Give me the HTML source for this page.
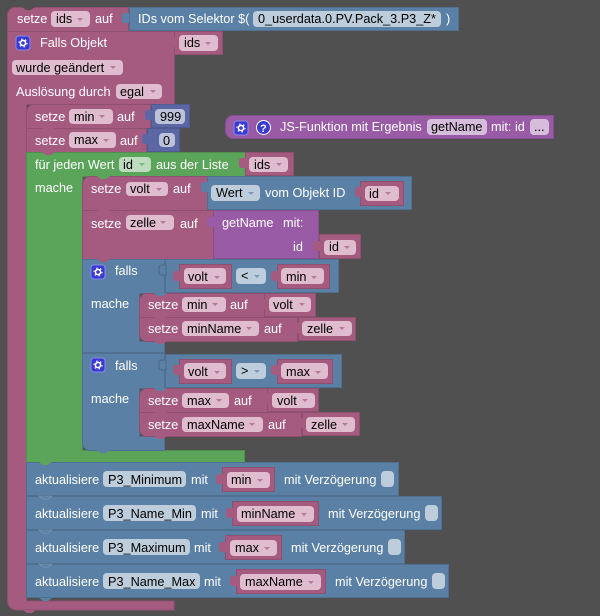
<!DOCTYPE html>
<html><head><meta charset="utf-8"><style>
html,body{margin:0;padding:0;background:#505050}
svg{display:block}
text{font-family:"Liberation Sans",sans-serif;font-size:12.7px}
.w{fill:#fff}.d{fill:#000}
.p{fill:#a55b80;stroke:#8f4f6f;stroke-width:1}
.b{fill:#5b80a5;stroke:#4f7090;stroke-width:1}
.g{fill:#5ba55b;stroke:#4f904f;stroke-width:1}
.u{fill:#995ba5;stroke:#854f90;stroke-width:1}
.i{fill:#5b67a5;stroke:#4f5a90;stroke-width:1}
.fp{fill:#e0bccf}.fb{fill:#bdcddc}.fg{fill:#bddbbd}.fu{fill:#d6bddb}.fi{fill:#bdc2db}
.ap{fill:#b67a98}.ab{fill:#7a98b6}.ag{fill:#7ab67a}
</style></head><body>
<svg width="600" height="616" viewBox="0 0 600 616" xmlns="http://www.w3.org/2000/svg">
<defs>
<path id="ar" d="M-3 0h6l-3 3z"/>
<g id="gear"><rect x="0" y="0" width="14" height="14" rx="3" fill="#3a3ad2" stroke="#8a8ae8"/><circle cx="7" cy="7" r="2.6" fill="none" stroke="#fff" stroke-width="1.6"/><circle cx="7" cy="7" r="4" fill="none" stroke="#fff" stroke-width="1.1" stroke-dasharray="1.5 2.7"/></g>
<path id="tb" d="M1 0H-3c-3 0-3 2-3 3v4c0 1 0 3 3 3H1z" fill="#5b80a5"/>
<path id="tp" d="M1 0H-3c-3 0-3 2-3 3v4c0 1 0 3 3 3H1z" fill="#a55b80"/>
<path id="tu" d="M1 0H-3c-3 0-3 2-3 3v4c0 1 0 3 3 3H1z" fill="#995ba5"/>
<path id="ti" d="M1 0H-3c-3 0-3 2-3 3v4c0 1 0 3 3 3H1z" fill="#5b67a5"/>
<path id="tg" d="M1 0H-3c-3 0-3 2-3 3v4c0 1 0 3 3 3H1z" fill="#5b80a5" stroke="#4a6785"/>
<path id="ne" d="M1 0l4 3h5l4-3z"/>
</defs>
<rect width="600" height="616" fill="#505050"/>

<!-- Falls Objekt C block -->
<path class="p" d="M174.500 31.500H7.500V601c0 5 4 9 9 9H174V601H26.500V104.500H174.500z"/>
<path fill="#a55b80" d="M23 610l4 3h5l4-3z"/>
<rect class="p" x="174.500" y="31.500" width="48" height="23"/>

<!-- Setze ids -->
<path class="p" d="M128.500 7.500H15c-4 0-7.500 3.500-7.500 7.500V31.500H128.500z"/>
<use href="#ne" x="21" y="7" fill="#505050"/>
<rect class="b" x="129.500" y="7.500" width="329" height="23"/>
<use href="#tb" x="128" y="13"/>
<text class="w" x="17" y="23">setze</text>
<rect class="fp" x="51" y="11" width="39" height="16" rx="4"/><text class="d" x="56" y="23">ids</text><use href="#ar" class="ap" x="80" y="18"/>
<text class="w" x="95" y="23">auf</text>
<text class="w" x="138" y="23">IDs vom Selektor $(</text>
<rect class="fb" x="253" y="11" width="188" height="16" rx="4"/><text class="d" x="258" y="23">0_userdata.0.PV.Pack_3.P3_Z*</text>
<text class="w" x="446" y="23">)</text>

<use href="#gear" x="16" y="36"/>
<text class="w" x="40" y="47">Falls Objekt</text>
<use href="#tp" x="174" y="37"/>
<rect class="fp" x="179" y="35" width="39" height="16" rx="4"/><text class="d" x="184" y="47">ids</text><use href="#ar" class="ap" x="208" y="42"/>
<rect class="fp" x="12" y="60" width="111" height="15" rx="4"/><text class="d" x="16" y="72">wurde geändert</text><use href="#ar" class="ap" x="113" y="66"/>
<text class="w" x="16" y="96">Auslösung durch</text>
<rect class="fp" x="116" y="84" width="46" height="15" rx="4"/><text class="d" x="120" y="96">egal</text><use href="#ar" class="ap" x="153" y="90"/>

<!-- JS function -->
<path class="u" d="M553.500 115.500H233c-4 0-7.500 3.500-7.500 7.500v8c0 4 3.500 7.500 7.500 7.500H553.500z"/>
<use href="#gear" x="234" y="121"/>
<circle cx="263.500" cy="127.500" r="7" fill="#3a3ad2" stroke="#fff"/>
<text x="260" y="132" font-weight="bold" style="font-size:11px" fill="#fff">?</text>
<text class="w" x="280" y="131">JS-Funktion mit Ergebnis</text>
<rect class="fu" x="427" y="119" width="60" height="16" rx="4"/><text class="d" x="431" y="131">getName</text>
<text class="w" x="491" y="131">mit: id</text>
<rect class="fu" x="530" y="119" width="19" height="16" rx="4"/><text class="d" x="534" y="131">...</text>

<!-- setze min -->
<path class="p" d="M150.500 104.500H34c-4 0-7.500 3.500-7.500 7.500V128.500H150.500z"/>
<rect class="i" x="151.500" y="104.500" width="38" height="23"/>
<use href="#ti" x="151" y="110"/>
<text class="w" x="35" y="121">setze</text>
<rect class="fp" x="69" y="109" width="44" height="15" rx="4"/><text class="d" x="74" y="121">min</text><use href="#ar" class="ap" x="102" y="115"/>
<text class="w" x="117" y="121">auf</text>
<rect class="fi" x="155" y="109" width="30" height="15" rx="4"/><text class="d" x="160" y="121">999</text>

<!-- setze max -->
<rect class="p" x="26.500" y="128.500" width="120" height="24"/>
<rect class="i" x="147.500" y="128.500" width="32" height="23"/>
<use href="#ti" x="148" y="134"/>
<use href="#ne" x="41" y="128" fill="#a55b80"/>
<text class="w" x="35" y="145">setze</text>
<rect class="fp" x="69" y="132" width="47" height="16" rx="4"/><text class="d" x="74" y="144">max</text><use href="#ar" class="ap" x="106" y="139"/>
<text class="w" x="120" y="145">auf</text>
<rect class="fi" x="159" y="133" width="16" height="14" rx="4"/><text class="d" x="163" y="145">0</text>

<!-- green loop -->
<path class="g" d="M245.500 152.500H26.500V462.500H244.500V450.500H82.500V176.500H245.500z"/>
<use href="#ne" x="41" y="152" fill="#a55b80"/>
<rect class="p" x="245.500" y="152.500" width="48" height="23"/>
<use href="#tp" x="245" y="158"/>
<text class="w" x="35" y="169">für jeden Wert</text>
<rect class="fg" x="119" y="157" width="32" height="15" rx="4"/><text class="d" x="123" y="169">id</text><use href="#ar" class="ag" x="142" y="163"/>
<text class="w" x="156" y="169">aus der Liste</text>
<rect class="fp" x="249" y="157" width="39" height="15" rx="4"/><text class="d" x="254" y="169">ids</text><use href="#ar" class="ap" x="279" y="163"/>
<text class="w" x="35" y="192">mache</text>

<!-- setze volt -->
<path class="p" d="M207.500 176.500H90c-4 0-7.500 3.500-7.500 7.500V210.500H207.500z"/>
<rect class="b" x="207.500" y="176.500" width="204" height="33"/>
<use href="#tb" x="207" y="182"/>
<use href="#ne" x="96" y="176" fill="#5ba55b"/>
<text class="w" x="91" y="193">setze</text>
<rect class="fp" x="126" y="182" width="42" height="14" rx="4"/><text class="d" x="130" y="193">volt</text><use href="#ar" class="ap" x="159" y="188"/>
<text class="w" x="173" y="193">auf</text>
<rect class="fb" x="211" y="185" width="49" height="16" rx="4"/><text class="d" x="216" y="197">Wert</text><use href="#ar" class="ab" x="251" y="192"/>
<text class="w" x="265" y="197">vom Objekt ID</text>
<rect class="p" x="360.500" y="181.500" width="43" height="24"/>
<use href="#tp" x="361" y="187"/>
<rect class="fp" x="365" y="186" width="34" height="15" rx="4"/><text class="d" x="369" y="198">id</text><use href="#ar" class="ap" x="388" y="192"/>

<!-- setze zelle -->
<rect class="p" x="82.500" y="210.500" width="131" height="49"/>
<rect class="u" x="213.500" y="210.500" width="105" height="48"/>
<use href="#tu" x="213" y="217"/>
<use href="#ne" x="96" y="210" fill="#a55b80"/>
<rect class="p" x="319.500" y="234.500" width="41" height="24"/>
<use href="#tp" x="319" y="241"/>
<text class="w" x="91" y="228">setze</text>
<rect class="fp" x="126" y="215" width="48" height="15" rx="4"/><text class="d" x="130" y="227">zelle</text><use href="#ar" class="ap" x="163" y="221"/>
<text class="w" x="180" y="228">auf</text>
<text class="w" x="222" y="227">getName</text>
<text class="w" x="283" y="227">mit:</text>
<text class="w" x="293" y="251">id</text>
<rect class="fp" x="324" y="240" width="32" height="15" rx="4"/><text class="d" x="329" y="251">id</text><use href="#ar" class="ap" x="347" y="246"/>

<!-- falls 1 -->
<path class="b" d="M164.500 259.500H82.500V352.500H164.500V341.500H139.500V293.500H164.500z"/>
<use href="#ne" x="96" y="259" fill="#a55b80"/>
<rect class="b" x="165.500" y="259.500" width="173" height="33"/>
<use href="#tg" x="165" y="265"/>
<use href="#gear" x="91" y="265"/>
<text class="w" x="115" y="275">falls</text>
<rect class="p" x="179.500" y="264.500" width="52" height="24"/>
<use href="#tp" x="179" y="271"/>
<rect class="fp" x="184" y="268" width="42" height="16" rx="4"/><text class="d" x="188" y="281">volt</text><use href="#ar" class="ap" x="217" y="276"/>
<rect class="fb" x="236" y="268" width="30" height="16" rx="4"/><text class="d" x="241" y="280">&lt;</text><use href="#ar" class="ab" x="257" y="275"/>
<rect class="p" x="277.500" y="264.500" width="52" height="24"/>
<use href="#tp" x="277" y="271"/>
<rect class="fp" x="281" y="268" width="43" height="16" rx="4"/><text class="d" x="286" y="281">min</text><use href="#ar" class="ap" x="314" y="276"/>
<text class="w" x="91" y="308">mache</text>

<path class="p" d="M264.500 293.500H147c-4 0-7.500 3.500-7.500 7.500V317.500H264.500z"/>
<rect class="p" x="264.500" y="293.500" width="51" height="23"/>
<use href="#tp" x="264" y="299"/>
<use href="#ne" x="153" y="293" fill="#5b80a5"/>
<text class="w" x="148" y="309">setze</text>
<rect class="fp" x="182" y="297" width="44" height="15" rx="4"/><text class="d" x="187" y="309">min</text><use href="#ar" class="ap" x="215" y="303"/>
<text class="w" x="230" y="309">auf</text>
<rect class="fp" x="269" y="297" width="42" height="15" rx="4"/><text class="d" x="273" y="309">volt</text><use href="#ar" class="ap" x="302" y="303"/>

<path class="p" d="M297.500 317.500H139.500V334c0 4 3.500 7.500 7.500 7.500H297.500z"/>
<rect class="p" x="298.500" y="317.500" width="57" height="23"/>
<use href="#tp" x="298" y="323"/>
<use href="#ne" x="153" y="317" fill="#a55b80"/>
<use href="#ne" x="153" y="341" fill="#a55b80"/>
<text class="w" x="148" y="333">setze</text>
<rect class="fp" x="182" y="321" width="77" height="15" rx="4"/><text class="d" x="187" y="333">minName</text><use href="#ar" class="ap" x="249" y="327"/>
<text class="w" x="264" y="333">auf</text>
<rect class="fp" x="302" y="321" width="50" height="15" rx="4"/><text class="d" x="307" y="333">zelle</text><use href="#ar" class="ap" x="342" y="327"/>

<!-- falls 2 -->
<path class="b" d="M164.500 353.500H82.500V443c0 4 3.500 7.500 7.500 7.500H164.500V436.500H139.500V388.500H164.500z"/>
<use href="#ne" x="96" y="450" fill="#5b80a5"/>
<rect class="b" x="165.500" y="354.500" width="176" height="33"/>
<use href="#tg" x="165" y="360"/>
<use href="#gear" x="91" y="358"/>
<text class="w" x="115" y="370">falls</text>
<rect class="p" x="179.500" y="359.500" width="52" height="24"/>
<use href="#tp" x="179" y="365"/>
<rect class="fp" x="184" y="363" width="42" height="16" rx="4"/><text class="d" x="188" y="376">volt</text><use href="#ar" class="ap" x="217" y="371"/>
<rect class="fb" x="236" y="363" width="30" height="16" rx="4"/><text class="d" x="241" y="375">&gt;</text><use href="#ar" class="ab" x="257" y="370"/>
<rect class="p" x="277.500" y="359.500" width="55" height="24"/>
<use href="#tp" x="277" y="365"/>
<rect class="fp" x="281" y="363" width="47" height="16" rx="4"/><text class="d" x="286" y="376">max</text><use href="#ar" class="ap" x="318" y="371"/>
<text class="w" x="91" y="403">mache</text>

<path class="p" d="M267.500 388.500H147c-4 0-7.500 3.500-7.500 7.500V412.500H267.500z"/>
<rect class="p" x="267.500" y="388.500" width="51" height="23"/>
<use href="#tp" x="267" y="394"/>
<use href="#ne" x="153" y="388" fill="#5b80a5"/>
<text class="w" x="148" y="405">setze</text>
<rect class="fp" x="182" y="393" width="47" height="15" rx="4"/><text class="d" x="187" y="405">max</text><use href="#ar" class="ap" x="219" y="399"/>
<text class="w" x="234" y="405">auf</text>
<rect class="fp" x="272" y="393" width="43" height="15" rx="4"/><text class="d" x="277" y="405">volt</text><use href="#ar" class="ap" x="305" y="399"/>

<path class="p" d="M301.500 412.500H139.500V429c0 4 3.500 7.500 7.500 7.500H301.500z"/>
<rect class="p" x="302.500" y="412.500" width="57" height="23"/>
<use href="#tp" x="302" y="418"/>
<use href="#ne" x="153" y="412" fill="#a55b80"/>
<use href="#ne" x="153" y="436" fill="#a55b80"/>
<text class="w" x="148" y="429">setze</text>
<rect class="fp" x="182" y="417" width="81" height="15" rx="4"/><text class="d" x="187" y="429">maxName</text><use href="#ar" class="ap" x="252" y="423"/>
<text class="w" x="268" y="429">auf</text>
<rect class="fp" x="306" y="417" width="49" height="15" rx="4"/><text class="d" x="311" y="429">zelle</text><use href="#ar" class="ap" x="345" y="423"/>

<!-- aktualisiere rows -->
<rect class="b" x="26.500" y="462.500" width="372" height="33"/>
<use href="#ne" x="38" y="462" fill="#5ba55b"/>
<text class="w" x="35" y="484">aktualisiere</text>
<rect class="fb" x="103" y="471" width="83" height="16" rx="4"/><text class="d" x="108" y="484">P3_Minimum</text>
<text class="w" x="191" y="484">mit</text>
<rect class="p" x="222.500" y="467.500" width="52" height="24"/>
<use href="#tp" x="222" y="474"/>
<rect class="fp" x="227" y="472" width="43" height="16" rx="4"/><text class="d" x="231" y="484">min</text><use href="#ar" class="ap" x="260" y="479"/>
<text class="w" x="284" y="484">mit Verzögerung</text>
<rect class="fb" x="381" y="471" width="13" height="16" rx="4"/>

<rect class="b" x="26.500" y="496.500" width="415" height="33"/>
<use href="#ne" x="38" y="496" fill="#5b80a5" stroke="#7f9cba" stroke-width=".6"/>
<text class="w" x="35" y="518">aktualisiere</text>
<rect class="fb" x="103" y="505" width="93" height="16" rx="4"/><text class="d" x="108" y="518">P3_Name_Min</text>
<text class="w" x="201" y="518">mit</text>
<rect class="p" x="232.500" y="501.500" width="86" height="24"/>
<use href="#tp" x="232" y="508"/>
<rect class="fp" x="237" y="506" width="77" height="16" rx="4"/><text class="d" x="241" y="518">minName</text><use href="#ar" class="ap" x="304" y="513"/>
<text class="w" x="328" y="518">mit Verzögerung</text>
<rect class="fb" x="425" y="505" width="13" height="16" rx="4"/>

<rect class="b" x="26.500" y="530.500" width="378" height="33"/>
<use href="#ne" x="38" y="530" fill="#5b80a5" stroke="#7f9cba" stroke-width=".6"/>
<text class="w" x="35" y="552">aktualisiere</text>
<rect class="fb" x="103" y="539" width="87" height="16" rx="4"/><text class="d" x="108" y="552">P3_Maximum</text>
<text class="w" x="194" y="552">mit</text>
<rect class="p" x="225.500" y="535.500" width="56" height="24"/>
<use href="#tp" x="225" y="542"/>
<rect class="fp" x="230" y="540" width="47" height="16" rx="4"/><text class="d" x="235" y="552">max</text><use href="#ar" class="ap" x="267" y="547"/>
<text class="w" x="291" y="552">mit Verzögerung</text>
<rect class="fb" x="388" y="539" width="13" height="16" rx="4"/>

<rect class="b" x="26.500" y="564.500" width="422" height="33"/>
<use href="#ne" x="38" y="564" fill="#5b80a5" stroke="#7f9cba" stroke-width=".6"/>
<use href="#ne" x="38" y="598" fill="#5b80a5"/>
<text class="w" x="35" y="586">aktualisiere</text>
<rect class="fb" x="103" y="573" width="97" height="16" rx="4"/><text class="d" x="108" y="586">P3_Name_Max</text>
<text class="w" x="204" y="586">mit</text>
<rect class="p" x="236.500" y="569.500" width="89" height="24"/>
<use href="#tp" x="236" y="576"/>
<rect class="fp" x="240" y="574" width="81" height="16" rx="4"/><text class="d" x="245" y="586">maxName</text><use href="#ar" class="ap" x="311" y="581"/>
<text class="w" x="335" y="586">mit Verzögerung</text>
<rect class="fb" x="432" y="573" width="13" height="16" rx="4"/>
</svg>
</body></html>
